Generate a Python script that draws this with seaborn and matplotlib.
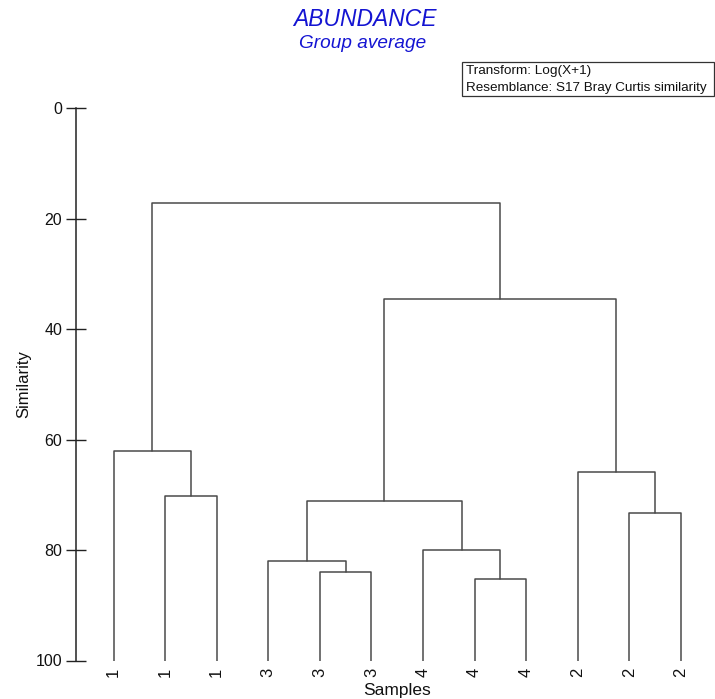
import numpy as np
import pandas as pd
import matplotlib
import matplotlib.pyplot as plt
import seaborn as sns
from matplotlib.patches import Rectangle

matplotlib.use("Agg")

# leaves in plotting order
leaf_labels = ["1", "1", "1", "3", "3", "3", "4", "4", "4", "2", "2", "2"]

# merges: (left node, right node, similarity); new nodes numbered from 12
merge_left = [4, 7, 1, 10, 3, 6, 0, 9, 16, 20, 18]
merge_right = [5, 8, 2, 11, 12, 13, 14, 15, 17, 19, 21]
merge_sim = [83.9, 85.2, 70.2, 73.2, 81.9, 80.0, 62.0, 65.9, 71.1, 34.5, 17.2]

y_ticks = [0, 20, 40, 60, 80, 100]

title_main = "ABUNDANCE"
title_sub = "Group average"
info_lines = ["Transform: Log(X+1)", "Resemblance: S17 Bray Curtis similarity"]

sns.set_theme(style="white")
plt.rcParams["font.family"] = ["Liberation Sans", "DejaVu Sans"]

W, H = 715, 699

# node positions: leaves at their index, similarity 100
n = len(leaf_labels)
node_x = {i: float(i) for i in range(n)}
node_y = {i: 100.0 for i in range(n)}

rows = []
for k, (a, b, s) in enumerate(zip(merge_left, merge_right, merge_sim)):
    node = n + k
    node_x[node] = (node_x[a] + node_x[b]) / 2
    node_y[node] = s
    xs = [node_x[a], node_x[a], node_x[b], node_x[b]]
    ys = [node_y[a], s, s, node_y[b]]
    for j, (x, y) in enumerate(zip(xs, ys)):
        rows.append({"link": k, "order": j, "x": x, "y": y})

links = pd.DataFrame(rows)

fig = plt.figure(figsize=(W / 100, H / 100), dpi=100)
ax = fig.add_axes([76 / W, 1 - 660.5 / H, 1 - 76 / W, (660.5 - 108.3) / H])

sns.lineplot(
    data=links,
    x="x",
    y="y",
    units="link",
    estimator=None,
    sort=False,
    color="#4a4a4a",
    linewidth=1.1,
    ax=ax,
)

ax.set_ylim(100, 0)
ax.set_xlim(-0.727, 11.66)

for side in ["top", "right", "bottom"]:
    ax.spines[side].set_visible(False)
ax.spines["left"].set_color("#222222")
ax.spines["left"].set_linewidth(1.1)

ax.set_yticks(y_ticks)
ax.set_yticklabels([str(t) for t in y_ticks], fontsize=11.5, color="#111111")
ax.tick_params(axis="y", direction="inout", length=14, width=1.0,
               color="#222222", pad=3, left=True)

ax.set_xticks(range(n))
ax.set_xticklabels(leaf_labels, rotation=90, fontsize=12, va="top",
                   color="#111111")
ax.tick_params(axis="x", length=0, pad=5)

ax.set_xlabel("")
ax.set_ylabel("Similarity", fontsize=12, labelpad=3, color="#111111")

fig.text(397 / W, 1 - 690 / H, "Samples", ha="center", va="center",
         fontsize=12.5, color="#111111")

fig.text(365 / W, 1 - 20 / H, title_main, ha="center", va="center",
         fontsize=16.5, style="italic", color="#1414d2")
fig.text(363 / W, 1 - 44 / H, title_sub, ha="center", va="center",
         fontsize=13.7, style="italic", color="#1414d2")

# info box
fig.patches.append(Rectangle((462 / W, 1 - 96 / H), (714 - 462) / W, 34 / H,
                             transform=fig.transFigure, facecolor="white",
                             edgecolor="#333333", linewidth=0.9))
fig.text(466 / W, 1 - 71 / H, info_lines[0], ha="left", va="center",
         fontsize=9.7, color="#111111")
fig.text(466 / W, 1 - 87.5 / H, info_lines[1], ha="left", va="center",
         fontsize=9.7, color="#111111")

fig.savefig("out.png", dpi=100)
